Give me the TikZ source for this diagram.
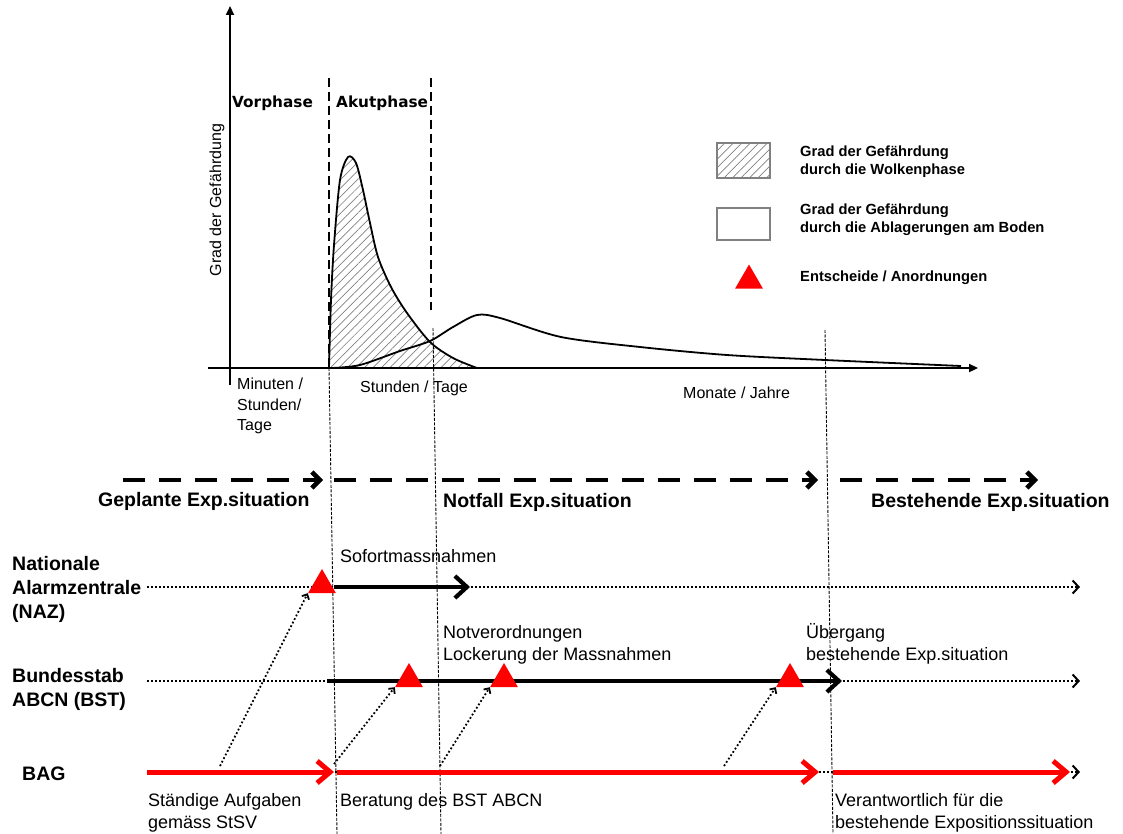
\documentclass[tikz,border=0pt]{standalone}
\usepackage{fontspec}
\setmainfont{Liberation Sans}
\newfontfamily\phasefont{DejaVu Sans}
\usetikzlibrary{arrows.meta,patterns.meta,shapes.geometric}

\begin{document}
\begin{tikzpicture}[x=1pt,y=-1pt,
  axis/.style={line width=2.2pt,-{Triangle[length=9pt,width=8pt]}},
  curve/.style={line width=1.8pt},
  phaseline/.style={line width=2.6pt,dash pattern=on 9pt off 5pt},
  guide/.style={line width=0.9pt,dash pattern=on 3pt off 1.5pt},
  situ/.style={line width=4.5pt,dash pattern=on 22pt off 14pt,-{Straight Barb[length=8pt,width=16pt]}},
  track/.style={line width=2pt,dash pattern=on 2pt off 2pt,-{Straight Barb[length=6pt,width=13pt]}},
  active/.style={line width=4.2pt,-{Straight Barb[length=12pt,width=22pt]}},
  bag/.style={line width=5pt,red,-{Straight Barb[length=13pt,width=22pt]}},
  link/.style={line width=1.8pt,dash pattern=on 1.8pt off 2.2pt,-{Straight Barb[length=4pt,width=8pt]}},
  tri/.style={regular polygon,regular polygon sides=3,fill=red,inner sep=0pt,minimum size=32pt},
  hatch/.style={pattern={Lines[angle=45,distance=6pt,line width=0.7pt]},pattern color=gray},
  big/.style={font=\fontsize{19.5}{24}\selectfont\bfseries,inner sep=0pt},
  note/.style={font=\fontsize{18}{22}\selectfont,inner sep=0pt},
  tick/.style={font=\fontsize{16}{20.5}\selectfont,inner sep=0pt},
  leg/.style={font=\fontsize{14.7}{18}\selectfont\bfseries,inner sep=0pt},
  phase/.style={font=\fontsize{15.3}{18}\selectfont\phasefont\bfseries,inner sep=0pt}]
\useasboundingbox (0,0) rectangle (1123,834);

% Gefaehrdungskurven
\fill[hatch] plot[smooth] coordinates {(329,368) (331,300) (334,245) (340,180) (348,157) (356,163) (363,190) (370,223) (378,257) (391,287) (407,313) (430,342) (453,358) (477,368)} -- cycle;
\draw[curve] plot[smooth] coordinates {(329,368) (331,300) (334,245) (340,180) (348,157) (356,163) (363,190) (370,223) (378,257) (391,287) (407,313) (430,342) (453,358) (477,368)};
\draw[curve] plot[smooth] coordinates {(332,368) (360,365) (400,351) (430,341) (453,327) (477,315) (500,318) (561,337) (640,347) (727,355) (825,360) (961,366)};

% Achsen
\coordinate (ybot) at (230,385);
\coordinate (ytop) at (230,6);
\coordinate (xleft) at (208,368);
\coordinate (xright) at (978,368);
\draw[axis] (ybot) -- (ytop);
\draw[axis] (xleft) -- (xright);

% Phasen
\coordinate (p1top) at (329,78);
\coordinate (p1bot) at (329,368);
\coordinate (p2top) at (431,78);
\coordinate (p2bot) at (431,310);
\draw[phaseline] (p1top) -- (p1bot);
\draw[phaseline] (p2top) -- (p2bot);
\node[phase,anchor=base west] (vor) at (232,108) {Vorphase};
\node[phase,anchor=base west] (akut) at (336,108) {Akutphase};
\node[tick,rotate=90] (grad) at (217,200) {Grad der Gefährdung};
\node[tick,anchor=north west,align=left] (minuten) at (237,378) {Minuten /\\Stunden/\\Tage};
\node[tick,anchor=base west] (stunden) at (360,392) {Stunden / Tage};
\node[tick,anchor=base west] (monate) at (683,398) {Monate / Jahre};

% Hilfslinien
\coordinate (g1a) at (329,368);
\coordinate (g1b) at (337,834);
\coordinate (g2a) at (433,328);
\coordinate (g2b) at (441,834);
\coordinate (g3a) at (825,330);
\coordinate (g3b) at (833,834);
\draw[guide] (g1a) -- (g1b);
\draw[guide] (g2a) -- (g2b);
\draw[guide] (g3a) -- (g3b);

% Legende
\node[draw=gray,line width=1.3pt,hatch,minimum width=53pt,minimum height=35pt,inner sep=0pt] (legcloud) at (743.5,160.5) {};
\node[draw=gray,line width=1.3pt,minimum width=53pt,minimum height=32pt,inner sep=0pt] (legground) at (743.5,224) {};
\node[tri] (legtri) at (749,280.5) {};
\node[leg,anchor=north west,align=left] (legcloudtxt) at (800,146) {Grad der Gefährdung\\durch die Wolkenphase};
\node[leg,anchor=north west,align=left] (leggroundtxt) at (800,204) {Grad der Gefährdung\\durch die Ablagerungen am Boden};
\node[leg,anchor=base west] (legtritxt) at (800,281) {Entscheide / Anordnungen};

% Expositionssituationen
\coordinate (s1a) at (123,480);
\coordinate (s1b) at (323,480);
\coordinate (s2a) at (334,480);
\coordinate (s2b) at (818,480);
\coordinate (s3a) at (840,480);
\coordinate (s3b) at (1038,480);
\draw[situ] (s1a) -- (s1b);
\draw[situ] (s2a) -- (s2b);
\draw[situ] (s3a) -- (s3b);
\node[big,anchor=base west] (geplant) at (98,506) {Geplante Exp.situation};
\node[big,anchor=base west] (notfall) at (443,507) {Notfall Exp.situation};
\node[big,anchor=base west] (bestehend) at (871,507) {Bestehende Exp.situation};

% Akteure
\node[big,anchor=north west,align=left] (naz) at (12,556) {Nationale\\Alarmzentrale\\(NAZ)};
\node[big,anchor=north west,align=left] (bst) at (12,668) {Bundesstab\\ABCN (BST)};
\node[big,anchor=base west] (bag) at (22,780) {BAG};

\coordinate (naza) at (147,587);
\coordinate (nazb) at (1080,587);
\coordinate (nazgo) at (334,587);
\coordinate (nazend) at (470,587);
\draw[track] (naza) -- (nazb);
\draw[active] (nazgo) -- (nazend);

\coordinate (bsta) at (147,681);
\coordinate (bstb) at (1080,681);
\coordinate (bstgo) at (327,681);
\coordinate (bstend) at (842,681);
\draw[track] (bsta) -- (bstb);
\draw[active] (bstgo) -- (bstend);

\coordinate (baga) at (147,772);
\coordinate (bagb) at (1080,772);
\coordinate (bag1) at (334,772);
\coordinate (bag2) at (337,772);
\coordinate (bag3) at (819,772);
\coordinate (bag4) at (833,772);
\coordinate (bag5) at (1070,772);
\draw[track] (baga) -- (bagb);
\draw[bag] (baga) -- (bag1);
\draw[bag] (bag2) -- (bag3);
\draw[bag] (bag4) -- (bag5);

% Entscheide
\node[tri] (n1) at (322,585) {};
\node[tri] (b1) at (409,679) {};
\node[tri] (b2) at (504,679) {};
\node[tri] (b3) at (790,679) {};

\coordinate (l1) at (220,766);
\coordinate (l2) at (334,764);
\coordinate (l3) at (440,766);
\coordinate (l4) at (724,766);
\draw[link] (l1) -- (n1.corner 2);
\draw[link] (l2) -- (b1.corner 2);
\draw[link] (l3) -- (b2.corner 2);
\draw[link] (l4) -- (b3.corner 2);

\node[note,anchor=base west] (sofort) at (340,562) {Sofortmassnahmen};
\node[note,anchor=north west,align=left] (notv) at (443,625) {Notverordnungen\\Lockerung der Massnahmen};
\node[note,anchor=north west,align=left] (ueber) at (806,623) {Übergang\\bestehende Exp.situation};
\node[note,anchor=north west,align=left] (staendig) at (148,793) {Ständige Aufgaben\\gemäss StSV};
\node[note,anchor=base west] (beratung) at (340,806) {Beratung des BST ABCN};
\node[note,anchor=north west,align=left] (verantw) at (835,793) {Verantwortlich für die\\bestehende Expositionssituation};
\end{tikzpicture}
\end{document}
